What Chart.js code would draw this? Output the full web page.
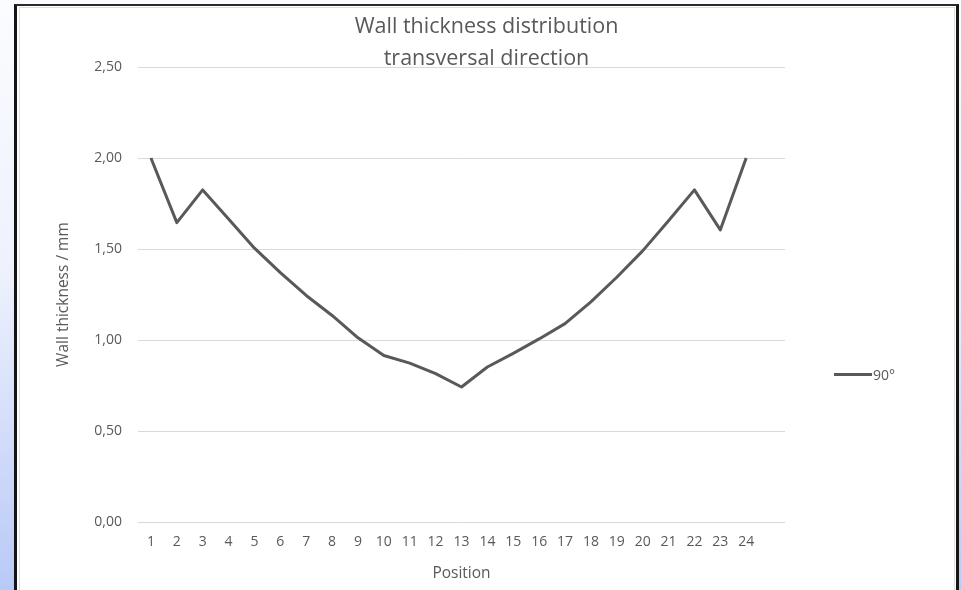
<!DOCTYPE html>
<html>
<head>
<meta charset="utf-8">
<script src="https://cdn.jsdelivr.net/npm/chart.js@4.4.1/dist/chart.umd.min.js"></script>
<style>
  html, body { margin: 0; padding: 0; }
  body {
    width: 961px; height: 590px; overflow: hidden; position: relative;
    background: linear-gradient(to bottom, #fbfcff 0%, #eef2fd 45%, #b9c9f7 100%);
  }
  #marco {
    position: absolute; left: 14px; top: 4px;
    width: 939px; height: 620px;
    border-left: 3px solid #151515; border-right: 3px solid #151515; border-top: 2px solid #2a2a2a;
    background: #fff;
  }
  #borde {
    position: absolute; left: 2px; top: 1px; right: 1px; bottom: 0;
    border-left: 1px solid #dedede; border-top: 1px solid #dedede; border-right: 1px solid #dedede;
  }
  #caja { position: absolute; left: 0; top: 0; width: 939px; height: 584px; }
</style>
</head>
<body>
<div id="marco">
  <div id="borde"></div>
  <div id="caja"><canvas id="myChart"></canvas></div>
</div>
<script>
// posiciones (la 25 queda vacia como en el original)
let posicion = ['1', '2', '3', '4', '5', '6', '7', '8', '9', '10', '11', '12',
  '13', '14', '15', '16', '17', '18', '19', '20', '21', '22', '23', '24', '']
// espesor de pared en mm, 90 grados
let espesor90 = [2.00, 1.645, 1.825, 1.665, 1.505, 1.37, 1.245, 1.135, 1.012, 0.915, 0.873, 0.815,
  0.742, 0.852, 0.927, 1.006, 1.09, 1.21, 1.345, 1.49, 1.655, 1.825, 1.605, 2.00, null]
let serie = '90°'
let titulo = ['Wall thickness distribution', 'transversal direction']
let tituloX = 'Position'
let tituloY = 'Wall thickness / mm'

const gris = '#595959'
const fuente = 'Open Sans'

// leyenda a la derecha, como en Excel
const leyenda = {
  id: 'leyenda',
  afterDraw(chart) {
    const ctx = chart.ctx
    const ds = chart.data.datasets[0]
    const a = chart.chartArea
    const x = a.right + 49
    const y = (a.top + a.bottom) / 2 + 80
    ctx.save()
    ctx.strokeStyle = ds.borderColor
    ctx.lineWidth = 3
    ctx.beginPath()
    ctx.moveTo(x, y)
    ctx.lineTo(x + 38, y)
    ctx.stroke()
    ctx.fillStyle = gris
    ctx.font = '14px "' + fuente + '"'
    ctx.textBaseline = 'middle'
    ctx.textAlign = 'left'
    ctx.fillText(ds.label, x + 39, y + 1)
    ctx.restore()
  }
}

new Chart('myChart', {
  type: 'line',
  data: {
    labels: posicion,
    datasets: [{
      label: serie,
      data: espesor90,
      borderColor: gris,
      borderWidth: 3,
      borderJoinStyle: 'round',
      pointRadius: 0,
      tension: 0,
      fill: false
    }]
  },
  options: {
    responsive: true,
    maintainAspectRatio: false,
    animation: false,
    layout: { padding: 0 },
    plugins: {
      legend: { display: false },
      tooltip: { enabled: false },
      title: {
        display: true,
        text: titulo,
        color: gris,
        font: { family: fuente, size: 21.5, weight: 'normal', lineHeight: 1.49 },
        padding: { top: 5, bottom: -8 }
      }
    },
    scales: {
      x: {
        offset: true,
        grid: { display: false, drawTicks: false },
        border: { display: false },
        ticks: { color: gris, font: { family: fuente, size: 14 }, padding: 12, autoSkip: false, maxRotation: 0 },
        title: { display: true, text: tituloX, color: gris, font: { family: fuente, size: 15.5 }, padding: { top: 0, bottom: 7 } },
        afterFit: function (s) { s.height = 68 }
      },
      y: {
        min: 0,
        max: 2.5,
        grid: { color: '#d9d9d9', lineWidth: 1, drawTicks: false },
        border: { display: false },
        ticks: {
          stepSize: 0.5,
          color: gris,
          padding: 16,
          font: { family: fuente, size: 14 },
          callback: function (v) { return v.toFixed(2).replace('.', ',') }
        },
        title: { display: true, text: tituloY, color: gris, font: { family: fuente, size: 15.5 }, padding: { top: 37, bottom: 0 } },
        afterFit: function (s) { s.width = 121 }
      },
      hueco: {
        // espacio de la leyenda
        position: 'right',
        grid: { display: false, drawTicks: false },
        border: { display: false },
        ticks: { display: false },
        afterFit: function (s) { s.width = 171 }
      }
    }
  },
  plugins: [leyenda]
});
</script>
</body>
</html>
